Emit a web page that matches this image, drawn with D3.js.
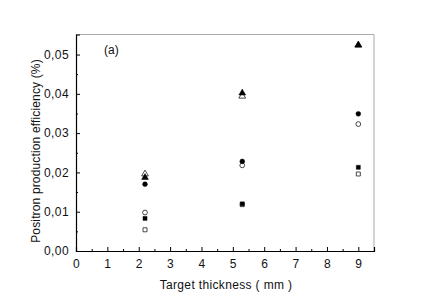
<!DOCTYPE html>
<html><head><meta charset="utf-8">
<script src="https://cdn.jsdelivr.net/npm/d3@7"></script>
<style>body{margin:0;background:#fff}svg{display:block}text{font-family:"Liberation Sans",Arial,sans-serif;fill:#111}</style>
</head><body><svg id="c" width="434" height="303"></svg>
<script>
const thickness = [2.2, 5.3, 9.0];
const filledTriangle = [0.0187, 0.0402, 0.0524];
const openTriangle   = [0.0196, 0.0394, 0.0524];
const filledCircle   = [0.0170, 0.0228, 0.0349];
const openCircle     = [0.0098, 0.0218, 0.0323];
const filledSquare   = [0.0083, 0.0120, 0.0213];
const openSquare     = [0.0054, 0.0118, 0.0196];
const xTicks = [0,1,2,3,4,5,6,7,8,9];
const yTicks = [0,0.01,0.02,0.03,0.04,0.05];

const series = [
  {v: openTriangle, sym: d3.symbolTriangle, fill: false},
  {v: filledTriangle, sym: d3.symbolTriangle, fill: true},
  {v: openCircle, sym: d3.symbolCircle, fill: false},
  {v: filledCircle, sym: d3.symbolCircle, fill: true},
  {v: openSquare, sym: d3.symbolSquare, fill: false},
  {v: filledSquare, sym: d3.symbolSquare, fill: true}
];

const svg = d3.select("#c");
const L = 76, R = 374, T = 34.5, B = 251;
const x = d3.scaleLinear().domain([0, 9.5]).range([L, R]);
const y = d3.scaleLinear().domain([0, 0.0551]).range([B, T]);

svg.append("path").attr("d", `M${L},${T}H${R}V${B}`).attr("fill","none").attr("stroke","#aaa").attr("stroke-width",1);

const fmt = d => d3.format(".2f")(d).replace(".", ",");
const xa = svg.append("g").attr("transform",`translate(0,${B})`)
  .call(d3.axisBottom(x).tickValues(xTicks).tickSize(-4).tickPadding(8).tickFormat(d3.format("d")));
const xm = svg.append("g").attr("transform",`translate(0,${B})`)
  .call(d3.axisBottom(x).tickValues(d3.range(0.5, 9.5, 1)).tickSize(-2).tickFormat(""));
const ya = svg.append("g").attr("transform",`translate(${L},0)`)
  .call(d3.axisLeft(y).tickValues(yTicks).tickSize(-4).tickPadding(7).tickFormat(fmt));
const ym = svg.append("g").attr("transform",`translate(${L},0)`)
  .call(d3.axisLeft(y).tickValues(d3.range(0.005, 0.055, 0.01)).tickSize(-2).tickFormat(""));
[xa,xm,ya,ym].forEach(g => {
  g.select(".domain").attr("stroke","#000").attr("stroke-width",1.2);
  g.selectAll(".tick line").attr("stroke","#000");
  g.selectAll("text").attr("font-size", 12).attr("letter-spacing", 0.4).attr("fill","#111").attr("font-family","Liberation Sans, Arial, sans-serif");
});
xm.select(".domain").remove(); ym.select(".domain").remove();

series.forEach(s => {
  svg.append("g").selectAll("path").data(thickness.map((t,i)=>[t,s.v[i]])).join("path")
    .attr("transform", d => `translate(${x(d[0])},${y(d[1])})`)
    .attr("d", d3.symbol().type(s.sym).size(s.sym===d3.symbolCircle?18:(s.sym===d3.symbolSquare?16:20)))
    .attr("fill", s.fill ? "#000" : "#fff")
    .attr("stroke", "#000").attr("stroke-width", s.fill ? 0.5 : 0.7);
});

svg.append("text").attr("x", 104).attr("y", 54).attr("font-size", 12).text("(a)");
svg.append("text").attr("x", 226).attr("y", 289).attr("text-anchor","middle").attr("font-size", 12).attr("letter-spacing", 0.35).text("Target thickness ( mm )");
svg.append("text").attr("transform", `translate(40,151) rotate(-90)`).attr("text-anchor","middle").attr("font-size", 12).attr("letter-spacing", 0.15).text("Positron production efficiency (%)");
</script></body></html>
